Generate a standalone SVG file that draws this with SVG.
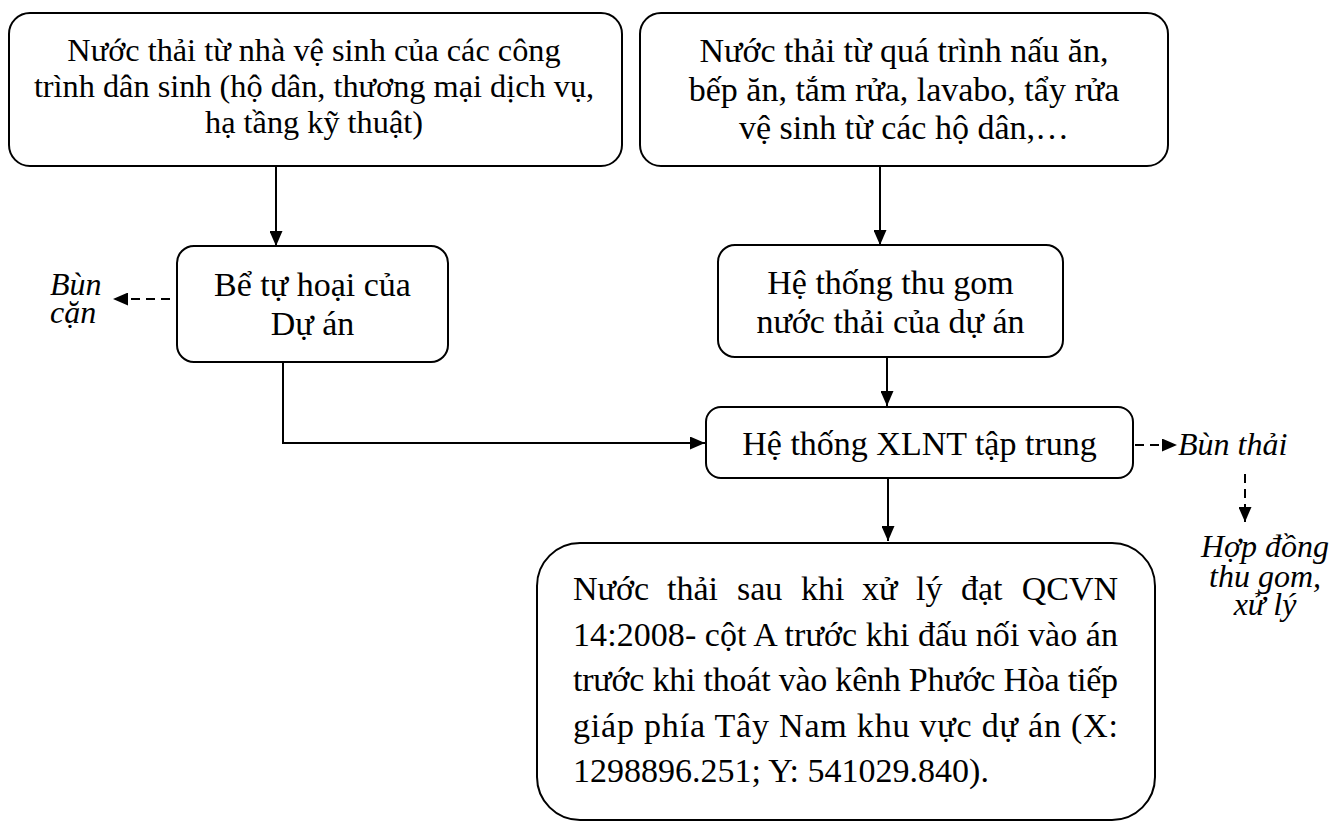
<svg xmlns="http://www.w3.org/2000/svg" width="1344" height="823" viewBox="0 0 1344 823">
  <defs>
    <marker id="arrow" markerUnits="userSpaceOnUse" markerWidth="15" markerHeight="13" refX="15" refY="6.5" orient="auto">
      <path d="M0,0 L15,6.5 L0,13 z" fill="#000"/>
    </marker>
    <style>
      .box { fill: #fff; stroke: #000; stroke-width: 2; }
      .t { font-family: "Liberation Serif", "Times New Roman", serif; font-size: 34px; fill: #000; }
      .s { font-size: 32.3px; }
      .c { text-anchor: middle; }
      .it { font-family: "Liberation Serif", "Times New Roman", serif; font-size: 32px; font-style: italic; fill: #000; }
      .ln { fill: none; stroke: #000; stroke-width: 2; marker-end: url(#arrow); }
      .dash { stroke-dasharray: 9 6; }
    </style>
  </defs>
  <rect width="1344" height="823" fill="#fff"/>

  <!-- connectors -->
  <g id="connectors">
    <line class="ln" x1="276" y1="166" x2="276" y2="246"/>
    <line class="ln" x1="880" y1="166" x2="880" y2="245"/>
    <line class="ln" x1="887" y1="357" x2="887" y2="406"/>
    <polyline class="ln" points="283,350 283,443 705,443"/>
    <line class="ln" x1="888" y1="478" x2="888" y2="541"/>
    <line class="ln dash" x1="170" y1="299" x2="113" y2="299"/>
    <line class="ln dash" x1="1135" y1="445" x2="1177" y2="445"/>
    <line class="ln dash" x1="1245" y1="474" x2="1245" y2="522"/>
  </g>

  <!-- source: sanitary wastewater -->
  <g id="src-sanitary">
    <rect class="box" x="9" y="13" width="613" height="153" rx="21"/>
    <text class="t s c" x="314" y="61">Nước thải từ nhà vệ sinh của các công</text>
    <text class="t s c" x="314" y="97">trình dân sinh (hộ dân, thương mại dịch vụ,</text>
    <text class="t s c" x="314" y="133">hạ tầng kỹ thuật)</text>
  </g>

  <!-- source: kitchen and washing wastewater -->
  <g id="src-kitchen">
    <rect class="box" x="640" y="13" width="528" height="153" rx="21"/>
    <text class="t c" x="904" y="62">Nước thải từ quá trình nấu ăn,</text>
    <text class="t c" x="904" y="100.5">bếp ăn, tắm rửa, lavabo, tẩy rửa</text>
    <text class="t c" x="904" y="139">vệ sinh từ các hộ dân,…</text>
  </g>

  <!-- septic tank -->
  <g id="septic">
    <rect class="box" x="177" y="246" width="271" height="116" rx="17"/>
    <text class="t c" x="312.5" y="296">Bể tự hoại của</text>
    <text class="t c" x="312.5" y="335">Dự án</text>
  </g>

  <!-- sludge from septic tank -->
  <g id="sludge-septic">
    <text class="it" x="50" y="295">Bùn</text>
    <text class="it" x="50" y="323">cặn</text>
  </g>

  <!-- collection network -->
  <g id="collection">
    <rect class="box" x="718" y="245" width="345" height="112" rx="17"/>
    <text class="t c" x="890.5" y="294">Hệ thống thu gom</text>
    <text class="t c" x="890.5" y="333">nước thải của dự án</text>
  </g>

  <!-- central treatment plant -->
  <g id="wwtp">
    <rect class="box" x="706" y="407" width="427" height="71" rx="15"/>
    <text class="t c" x="919.5" y="455">Hệ thống XLNT tập trung</text>
  </g>

  <!-- sludge from treatment plant -->
  <g id="sludge-wwtp">
    <text class="it" x="1178" y="455">Bùn thải</text>
  </g>

  <!-- sludge contract -->
  <g id="contract">
    <text class="it c" x="1265" y="557">Hợp đồng</text>
    <text class="it c" x="1265" y="587">thu gom,</text>
    <text class="it c" x="1265" y="615">xử lý</text>
  </g>

  <!-- treated effluent discharge -->
  <g id="discharge">
    <rect class="box" x="537" y="543" width="618" height="277" rx="43"/>
    <text class="t" y="600">
      <tspan x="573">Nước</tspan><tspan x="667">thải</tspan><tspan x="737">sau</tspan><tspan x="801">khi</tspan><tspan x="862">xử</tspan><tspan x="916">lý</tspan><tspan x="961">đạt</tspan><tspan x="1118" text-anchor="end">QCVN</tspan>
    </text>
    <text class="t" x="573" y="645.5" textLength="545" lengthAdjust="spacing">14:2008- cột A trước khi đấu nối vào án</text>
    <text class="t" x="573" y="691" textLength="545" lengthAdjust="spacing">trước khi thoát vào kênh Phước Hòa tiếp</text>
    <text class="t" x="573" y="736.5" textLength="545" lengthAdjust="spacing">giáp phía Tây Nam khu vực dự án (X:</text>
    <text class="t" x="573" y="782">1298896.251; Y: 541029.840).</text>
  </g>
</svg>
